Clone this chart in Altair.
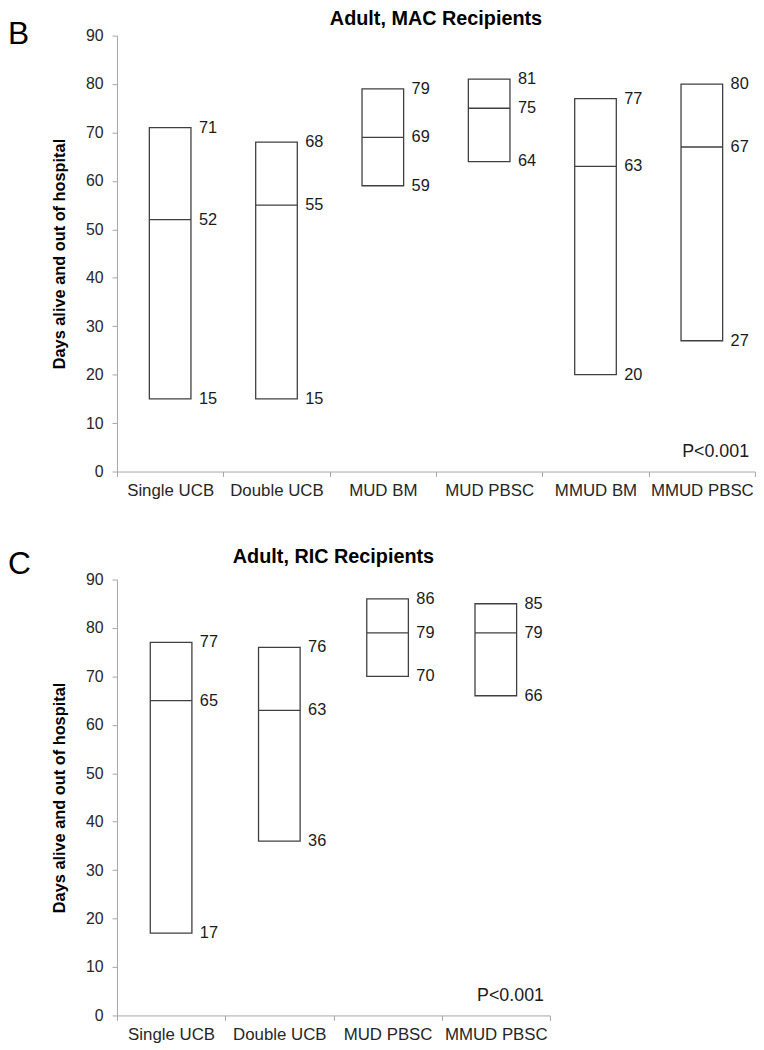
import altair as alt
import pandas as pd

# Panel B: Adult, MAC recipients
cats_b = ["Single UCB", "Double UCB", "MUD BM", "MUD PBSC", "MMUD BM", "MMUD PBSC"]
low_b = [15, 15, 59, 64, 20, 27]
med_b = [52, 55, 69, 75, 63, 67]
high_b = [71, 68, 79, 81, 77, 80]

# Panel C: Adult, RIC recipients
cats_c = ["Single UCB", "Double UCB", "MUD PBSC", "MMUD PBSC"]
low_c = [17, 36, 70, 66]
med_c = [65, 63, 79, 79]
high_c = [77, 76, 86, 85]

y_ticks = [0, 10, 20, 30, 40, 50, 60, 70, 80, 90]

FONT = "Liberation Sans"
H = 440
BOXW = 42
STROKE = "#404040"


def panel(cats, low, med, high, width, letter, letter_y, title, title_y):
    df = pd.DataFrame({"cat": cats, "low": low, "med": med, "high": high})
    lab = pd.DataFrame({"cat": cats * 3, "v": low + med + high})
    xs = alt.Scale(domain=cats, paddingInner=0, paddingOuter=0)
    x = alt.X("cat:N", sort=cats, scale=xs,
              axis=alt.Axis(title=None, labelAngle=0, tickBand="extent",
                            labelPadding=6, labelFontSize=17))
    ys = alt.Scale(domain=[0, 90], nice=False)
    yax = alt.Axis(values=y_ticks, title="Days alive and out of hospital",
                   titleFontWeight="bold", titleFontSize=16.5, titleColor="black",
                   titlePadding=18, labelPadding=9, labelFontSize=16)
    box = alt.Chart(df).mark_bar(size=BOXW, fill="white", stroke=STROKE,
                                 strokeWidth=1.3).encode(
        x=x, y=alt.Y("low:Q", scale=ys, axis=yax), y2="high:Q")
    medr = alt.Chart(df).mark_tick(size=BOXW, thickness=1.3, color=STROKE,
                                   opacity=1).encode(
        x=alt.X("cat:N", sort=cats, scale=xs), y=alt.Y("med:Q", scale=ys))
    txt = alt.Chart(lab).mark_text(align="left", baseline="middle", dx=BOXW / 2 + 8,
                                   fontSize=16.5, font=FONT, color="#1a1a1a").encode(
        x=alt.X("cat:N", sort=cats, scale=xs), y=alt.Y("v:Q", scale=ys),
        text="v:Q")
    ann = pd.DataFrame({"letter": [letter], "title": [title], "p": ["P<0.001"]})
    let = alt.Chart(ann).mark_text(align="left", baseline="alphabetic", fontSize=32,
                                   font=FONT, color="black").encode(
        x=alt.value(-110), y=alt.value(letter_y), text="letter:N")
    ttl = alt.Chart(ann).mark_text(align="center", baseline="middle", fontSize=20,
                                   fontWeight="bold", font=FONT, color="black").encode(
        x=alt.value(width / 2), y=alt.value(title_y), text="title:N")
    pv = alt.Chart(ann).mark_text(align="right", baseline="middle", fontSize=18,
                                  font=FONT, color="#1a1a1a").encode(
        x=alt.value(width - 6), y=alt.value(H - 20), text="p:N")
    return alt.layer(box, medr, txt, let, ttl, pv).properties(width=width, height=H)


pb = panel(cats_b, low_b, med_b, high_b, 644, "B", 8, "Adult, MAC Recipients", -17)
pc = panel(cats_c, low_c, med_c, high_c, 437, "C", -6, "Adult, RIC Recipients", -23)

chart = alt.vconcat(pb, pc, spacing=49).resolve_scale(
    x="independent", y="independent"
).properties(padding={"left": 0, "top": -4, "right": 0, "bottom": 0}
).configure_view(stroke=None).configure_axis(
    domainColor="#a6a6a6", tickColor="#a6a6a6", tickSize=5, grid=False,
    labelFont=FONT, titleFont=FONT, labelColor="#262626"
)

chart.save("out.html", embed_options={"renderer": "svg", "actions": False})
